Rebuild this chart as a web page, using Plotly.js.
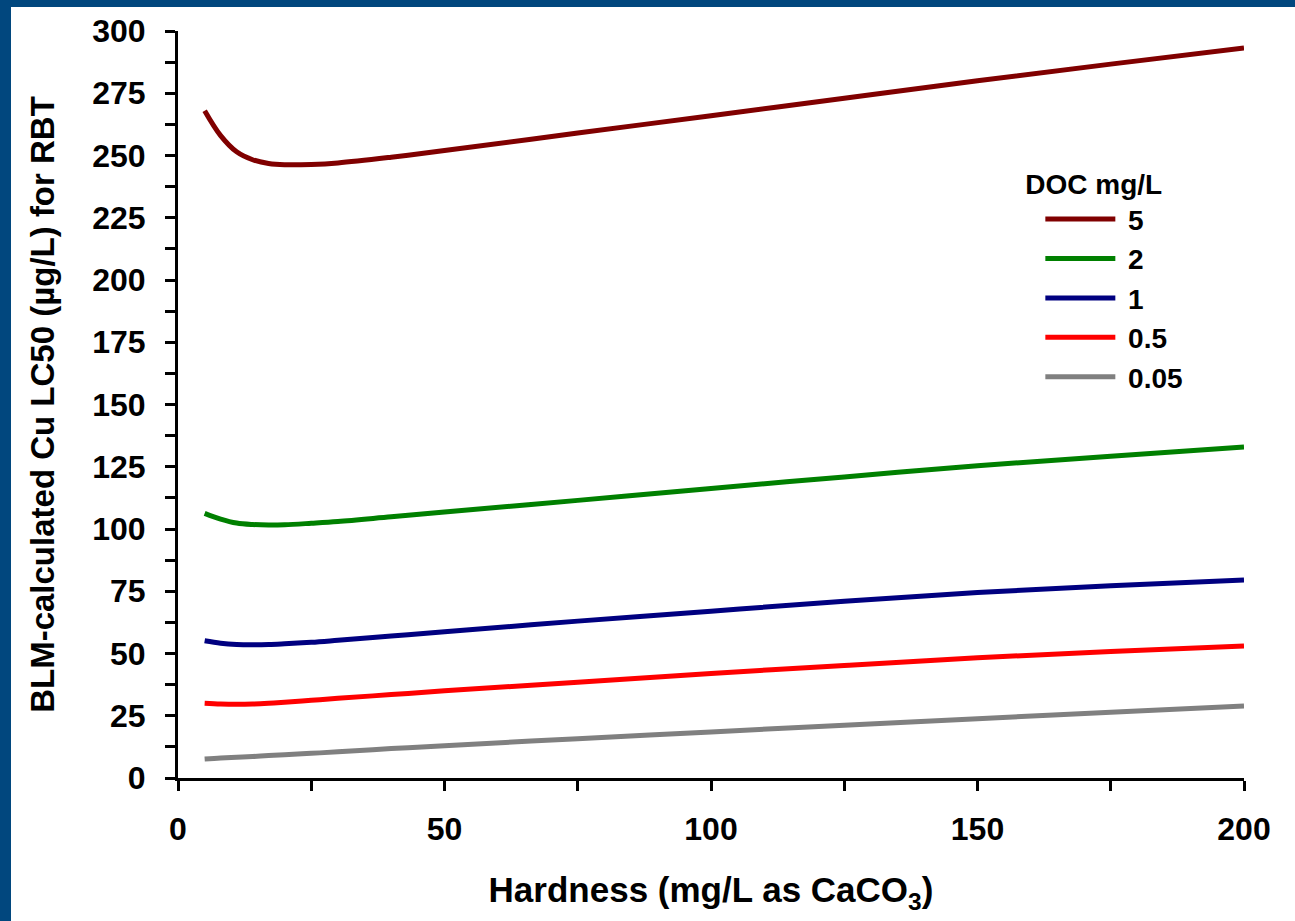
<!DOCTYPE html>
<html>
<head>
<meta charset="utf-8">
<script src="https://cdn.plot.ly/plotly-3.0.1.min.js"></script>
<style>
  html, body { margin: 0; padding: 0; background: #ffffff; }
  #frame { position: absolute; left: 0; top: 0; width: 1295px; height: 921px; background: #01477E; overflow: hidden; }
  #chart { position: absolute; left: 11px; top: 7px; width: 1284px; height: 914px; background: #ffffff; }
</style>
</head>
<body>
<div id="frame"><div id="chart"></div></div>
<script>
// Hardness (mg/L as CaCO3)
const hardness = [5, 8, 11, 14, 17, 20, 25, 30, 40, 50, 75, 100, 125, 150, 175, 200];
// BLM-calculated Cu LC50 (µg/L) for each DOC level
const doc5   = [268, 258, 251.5, 248.3, 246.8, 246.3, 246.4, 247, 249.3, 252, 259, 266, 273, 280, 286.7, 293.2];
const doc2   = [106.3, 104, 102.4, 101.8, 101.6, 101.7, 102.3, 103, 104.9, 106.8, 111.5, 116.3, 120.9, 125.4, 129.2, 132.9];
const doc1   = [55.1, 54.1, 53.6, 53.5, 53.6, 53.9, 54.5, 55.3, 57, 58.7, 63, 67, 71, 74.5, 77.2, 79.5];
const doc05  = [30, 29.7, 29.6, 29.7, 30, 30.4, 31.2, 32, 33.5, 35, 38.5, 42, 45.2, 48.3, 50.8, 53];
const doc005 = [7.6, 8.0, 8.3, 8.6, 9.0, 9.3, 9.9, 10.5, 11.8, 13.0, 15.8, 18.5, 21.2, 23.8, 26.4, 28.9];

const seriesNames = ['5', '2', '1', '0.5', '0.05'];
const seriesValues = [doc5, doc2, doc1, doc05, doc005];
const seriesColors = ['#800000', '#008000', '#000080', '#FF0000', '#808080'];

const FONT = 'Liberation Sans, Arial, sans-serif';

const traces = seriesNames.map((name, i) => ({
  type: 'scatter',
  mode: 'lines',
  name: '\u00a0' + name,
  x: hardness,
  y: seriesValues[i],
  line: { color: seriesColors[i], width: 5, shape: 'spline', smoothing: 1 },
  hoverinfo: 'x+y+name'
}));

const layout = {
  width: 1284,
  height: 914,
  margin: { l: 167, r: 51, t: 24, b: 143 },
  paper_bgcolor: '#ffffff',
  plot_bgcolor: '#ffffff',
  font: { family: FONT, size: 30, color: '#000000', weight: 700 },
  showlegend: true,
  legend: {
    x: 0.793, xanchor: 'left',
    y: 0.83, yanchor: 'top',
    bgcolor: 'rgba(0,0,0,0)',
    font: { family: FONT, size: 28, color: '#000000', weight: 700 },
    title: { text: 'DOC mg/L', side: 'top', font: { family: FONT, size: 28, color: '#000000', weight: 700 } },
    itemwidth: 70,
    indentation: 17,
    tracegroupgap: 0
  },
  xaxis: {
    range: [0, 200],
    dtick: 50,
    tick0: 0,
    ticks: 'outside',
    ticklen: 10,
    tickwidth: 3,
    tickcolor: '#000000',
    showline: true,
    linecolor: '#000000',
    linewidth: 3,
    showgrid: false,
    zeroline: false,
    ticklabelstandoff: 11,
    tickfont: { family: FONT, size: 32, color: '#000000', weight: 700 },
    minor: { dtick: 25, ticks: 'outside', ticklen: 10, tickwidth: 3, tickcolor: '#000000', showgrid: false },
    title: { text: 'Hardness (mg/L as CaCO<sub>3</sub>)', standoff: 32,
             font: { family: FONT, size: 35, color: '#000000', weight: 700 } }
  },
  yaxis: {
    range: [0, 300],
    dtick: 25,
    tick0: 0,
    ticks: 'outside',
    ticklen: 10,
    tickwidth: 3,
    tickcolor: '#000000',
    showline: true,
    linecolor: '#000000',
    linewidth: 3,
    showgrid: false,
    zeroline: false,
    ticklabelstandoff: 13,
    tickfont: { family: FONT, size: 32, color: '#000000', weight: 700 },
    minor: { dtick: 12.5, ticks: 'outside', ticklen: 10, tickwidth: 3, tickcolor: '#000000', showgrid: false },
    title: { text: 'BLM-calculated Cu LC50 (µg/L) for RBT', standoff: 28,
             font: { family: FONT, size: 33, color: '#000000', weight: 700 } }
  }
};

Plotly.newPlot('chart', traces, layout, { displayModeBar: false, staticPlot: true });
</script>
</body>
</html>
